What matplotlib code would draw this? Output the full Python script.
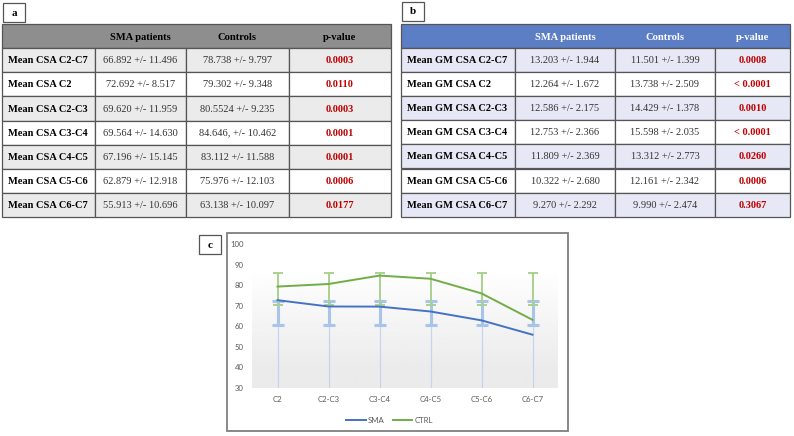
import numpy as np
import matplotlib.pyplot as plt
from matplotlib.patches import Rectangle

# ---- data ----
rows_a = ['Mean CSA C2-C7', 'Mean CSA C2', 'Mean CSA C2-C3', 'Mean CSA C3-C4',
          'Mean CSA C4-C5', 'Mean CSA C5-C6', 'Mean CSA C6-C7']
sma_a = ['66.892 +/- 11.496', '72.692 +/- 8.517', '69.620 +/- 11.959', '69.564 +/- 14.630',
         '67.196 +/- 15.145', '62.879 +/- 12.918', '55.913 +/- 10.696']
ctrl_a = ['78.738 +/- 9.797', '79.302 +/- 9.348', '80.5524 +/- 9.235', '84.646, +/- 10.462',
          '83.112 +/- 11.588', '75.976 +/- 12.103', '63.138 +/- 10.097']
p_a = ['0.0003', '0.0110', '0.0003', '0.0001', '0.0001', '0.0006', '0.0177']

rows_b = ['Mean GM CSA C2-C7', 'Mean GM CSA C2', 'Mean GM CSA C2-C3', 'Mean GM CSA C3-C4',
          'Mean GM CSA C4-C5', 'Mean GM CSA C5-C6', 'Mean GM CSA C6-C7']
sma_b = ['13.203 +/- 1.944', '12.264 +/- 1.672', '12.586 +/- 2.175', '12.753 +/- 2.366',
         '11.809 +/- 2.369', '10.322 +/- 2.680', '9.270 +/- 2.292']
ctrl_b = ['11.501 +/- 1.399', '13.738 +/- 2.509', '14.429 +/- 1.378', '15.598 +/- 2.035',
          '13.312 +/- 2.773', '12.161 +/- 2.342', '9.990 +/- 2.474']
p_b = ['0.0008', '< 0.0001', '0.0010', '< 0.0001', '0.0260', '0.0006', '0.3067']

headers = ['', 'SMA patients', 'Controls', 'p-value']

levels = ['C2', 'C2-C3', 'C3-C4', 'C4-C5', 'C5-C6', 'C6-C7']
sma = [72.692, 69.620, 69.564, 67.196, 62.879, 55.913]
ctrl = [79.302, 80.5524, 84.646, 83.112, 75.976, 63.138]
# error bar ends as drawn in the chart
sma_lo = [60.4, 60.4, 60.4, 60.4, 60.4, 60.4]
sma_hi = [72.5, 72.5, 72.5, 72.5, 72.5, 72.5]
ctrl_lo = [70.5, 70.5, 70.5, 70.5, 70.5, 70.5]
ctrl_hi = [86.0, 86.0, 86.0, 86.0, 86.0, 86.0]

SERIF = 'Liberation Serif'
W, H = 794, 436
fig = plt.figure(figsize=(W / 100, H / 100), dpi=100)
fig.set_facecolor('white')

bg = fig.add_axes([0, 0, 1, 1])
bg.set_xlim(0, W)
bg.set_ylim(H, 0)
bg.axis('off')


def label_box(x, y, txt):
    bg.add_patch(Rectangle((x, y), 22, 19, fc='white', ec='#555555', lw=0.9))
    bg.text(x + 11, y + 10, txt, ha='center', va='center', family=SERIF,
            weight='bold', fontsize=8)


def draw_table(x0, cols, top, head_h, row_h, rows, c1, c2, c3, head_fc, head_tc, shade):
    edges = [x0] + cols
    bg.add_patch(Rectangle((x0, top), edges[-1] - x0, head_h, fc=head_fc, ec='#555555', lw=0.9))
    for j in range(1, 4):
        bg.text((edges[j] + edges[j + 1]) / 2, top + head_h / 2 + 1, headers[j], ha='center',
                va='center', family=SERIF, weight='bold', fontsize=7.6, color=head_tc)
    for i in range(len(rows)):
        y = top + head_h + i * row_h
        fc = shade if i % 2 == 0 else 'white'
        for j in range(4):
            bg.add_patch(Rectangle((edges[j], y), edges[j + 1] - edges[j], row_h,
                                   fc=fc, ec='#555555', lw=0.9))
        yc = y + row_h / 2 + 0.5
        bg.text(x0 + 6, yc, rows[i], ha='left', va='center', family=SERIF,
                weight='bold', fontsize=7.5)
        bg.text((edges[1] + edges[2]) / 2, yc, c1[i], ha='center', va='center',
                family=SERIF, fontsize=7.5, color='#333333')
        bg.text((edges[2] + edges[3]) / 2, yc, c2[i], ha='center', va='center',
                family=SERIF, fontsize=7.5, color='#333333')
        bg.text((edges[3] + edges[4]) / 2, yc, c3[i], ha='center', va='center',
                family=SERIF, weight='bold', fontsize=7.5, color='#C00000')


label_box(3, 3, 'a')
draw_table(2, [95, 186, 289, 391], 24, 24, 24.2, rows_a, sma_a, ctrl_a, p_a,
           '#8E8E8E', 'black', '#EBEBEB')
label_box(402, 2, 'b')
draw_table(401, [515, 615, 715, 790], 24, 24, 24.1, rows_b, sma_b, ctrl_b, p_b,
           '#5B7EC4', 'white', '#E6E9F5')

# chart c frame
label_box(199, 235, 'c')
bg.add_patch(Rectangle((227, 233), 341, 198, fc='white', ec='#7F7F7F', lw=1.3))

ax = fig.add_axes([252 / W, 1 - 388 / H, 306 / W, 144 / H])
x = np.arange(len(levels))
ax.set_xlim(-0.5, len(levels) - 0.5)
ax.set_ylim(30, 100)

# plot area gradient: white at top, light grey at the bottom
grad = np.linspace(0, 1, 200).reshape(-1, 1)
grad = np.clip((grad - 0.15) / 0.85, 0, 1)
ax.imshow(1 - 0.08 * (1 - grad), extent=(-0.5, len(levels) - 0.5, 30, 88), cmap='gray',
          vmin=0, vmax=1, aspect='auto', origin='lower', zorder=0)
ax.imshow(np.ones((2, 2)), extent=(-0.5, len(levels) - 0.5, 88, 100), cmap='gray',
          vmin=0, vmax=1, aspect='auto', zorder=0)

blue = '#4472C4'
green = '#70AD47'
lblue = '#A9C4EB'
lgreen = '#A9D18E'

ax.vlines(x, 30, sma_lo, color='#C5D5EE', lw=0.9, zorder=1)
ax.vlines(x, sma_lo, sma_hi, color=lblue, lw=2.2, zorder=2)
ax.plot(x, sma_lo, ls='none', marker='_', ms=8, mew=2.2, color=lblue, zorder=2)
ax.plot(x, sma_hi, ls='none', marker='_', ms=8, mew=2.2, color=lblue, zorder=2)
ax.vlines(x, ctrl_lo, ctrl_hi, color=lgreen, lw=1.4, zorder=2)
ax.plot(x, ctrl_lo, ls='none', marker='_', ms=7, mew=1.4, color=lgreen, zorder=2)
ax.plot(x, ctrl_hi, ls='none', marker='_', ms=7, mew=1.4, color=lgreen, zorder=2)

ax.plot(x, sma, color=blue, lw=1.4, label='SMA', zorder=3)
ax.plot(x, ctrl, color=green, lw=1.4, label='CTRL', zorder=3)

for s in ax.spines.values():
    s.set_visible(False)
ax.set_yticks(range(30, 101, 10))
ax.set_xticks(x)
ax.set_xticklabels(levels)
ax.tick_params(length=0, labelsize=5.6, labelcolor='#595959', pad=6)
for t in ax.get_xticklabels() + ax.get_yticklabels():
    t.set_family('Lato')

ax.legend(loc='center', bbox_to_anchor=(0.45, -0.225), ncol=2, frameon=False,
          prop={'family': 'Lato', 'size': 5.6}, handlelength=2.5, columnspacing=1.0,
          handletextpad=0.3, labelcolor='#595959')

fig.savefig('out.png', dpi=100, facecolor='white')
